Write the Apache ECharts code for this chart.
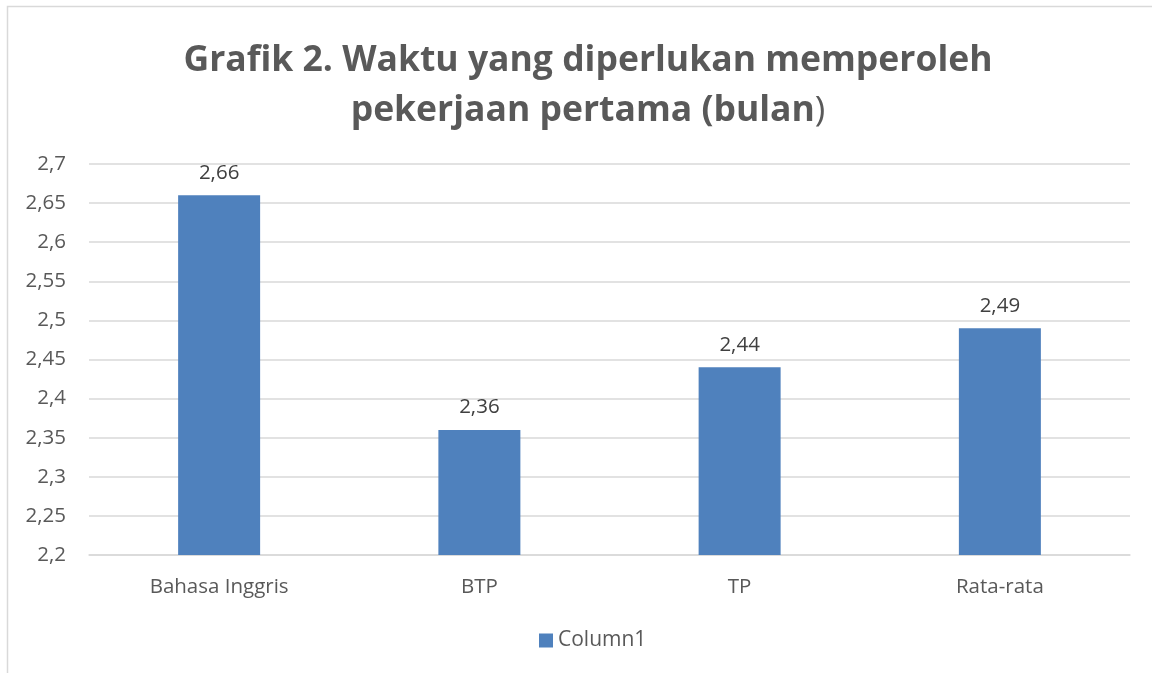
<!DOCTYPE html>
<html>
<head>
<meta charset="utf-8">
<script src="https://cdn.jsdelivr.net/npm/echarts@6/dist/echarts.min.js"></script>
<style>
  html, body { margin: 0; padding: 0; background: #fff; }
  #chart { width: 1152px; height: 673px; }
</style>
</head>
<body>
<div id="chart"></div>
<script>
var categories = ['Bahasa Inggris', 'BTP', 'TP', 'Rata-rata'];
var values = [2.66, 2.36, 2.44, 2.49];
var seriesName = 'Column1';

function fmtComma(v) {
  return String(+v.toFixed(2)).replace('.', ',');
}

var myChart = echarts.init(document.getElementById('chart'));
var option = {
  animation: false,
  textStyle: { fontFamily: 'Open Sans' },
  graphic: [{
    type: 'rect',
    shape: { x: 7.5, y: 6.5, width: 1160, height: 680 },
    style: { fill: 'none', stroke: '#d9d9d9', lineWidth: 1.5 },
    silent: true
  }],
  title: {
    text: '{b|Grafik 2. Waktu yang diperlukan memperoleh}\n{b|pekerjaan pertama (bulan}{n|)}',
    left: 583,
    textAlign: 'center',
    top: 31,
    textStyle: {
      rich: {
        b: { fontSize: 35.5, fontWeight: 'bold', color: '#595959', fontFamily: 'Open Sans', lineHeight: 50 },
        n: { fontSize: 35.5, fontWeight: 'normal', color: '#595959', fontFamily: 'Open Sans', lineHeight: 50 }
      }
    }
  },
  grid: { left: 89, right: 22, top: 164, bottom: 118, containLabel: false },
  legend: {
    bottom: 17,
    left: 534,
    icon: 'rect',
    itemWidth: 14,
    itemHeight: 14,
    itemGap: 6,
    textStyle: { color: '#595959', fontSize: 21, fontFamily: 'Open Sans' },
    data: [seriesName]
  },
  xAxis: {
    type: 'category',
    data: categories,
    axisLine: { show: true, lineStyle: { color: '#d9d9d9', width: 1.5 } },
    axisTick: { show: false },
    axisLabel: { color: '#595959', fontSize: 20.5, margin: 22, fontFamily: 'Open Sans' }
  },
  yAxis: {
    type: 'value',
    min: 2.2,
    max: 2.7,
    interval: 0.05,
    axisLine: { show: false },
    axisTick: { show: false },
    splitLine: { lineStyle: { color: '#d9d9d9', width: 1.5 } },
    axisLabel: {
      color: '#595959',
      fontSize: 20.5,
      margin: 23,
      fontFamily: 'Open Sans',
      formatter: fmtComma
    }
  },
  series: [{
    name: seriesName,
    type: 'bar',
    barWidth: 82,
    data: values,
    itemStyle: { color: '#4f81bd' },
    label: {
      show: true,
      position: 'top',
      distance: 12,
      color: '#404040',
      fontSize: 20.5,
      fontFamily: 'Open Sans',
      formatter: function (p) { return fmtComma(p.value); }
    }
  }]
};
myChart.setOption(option);
</script>
</body>
</html>
